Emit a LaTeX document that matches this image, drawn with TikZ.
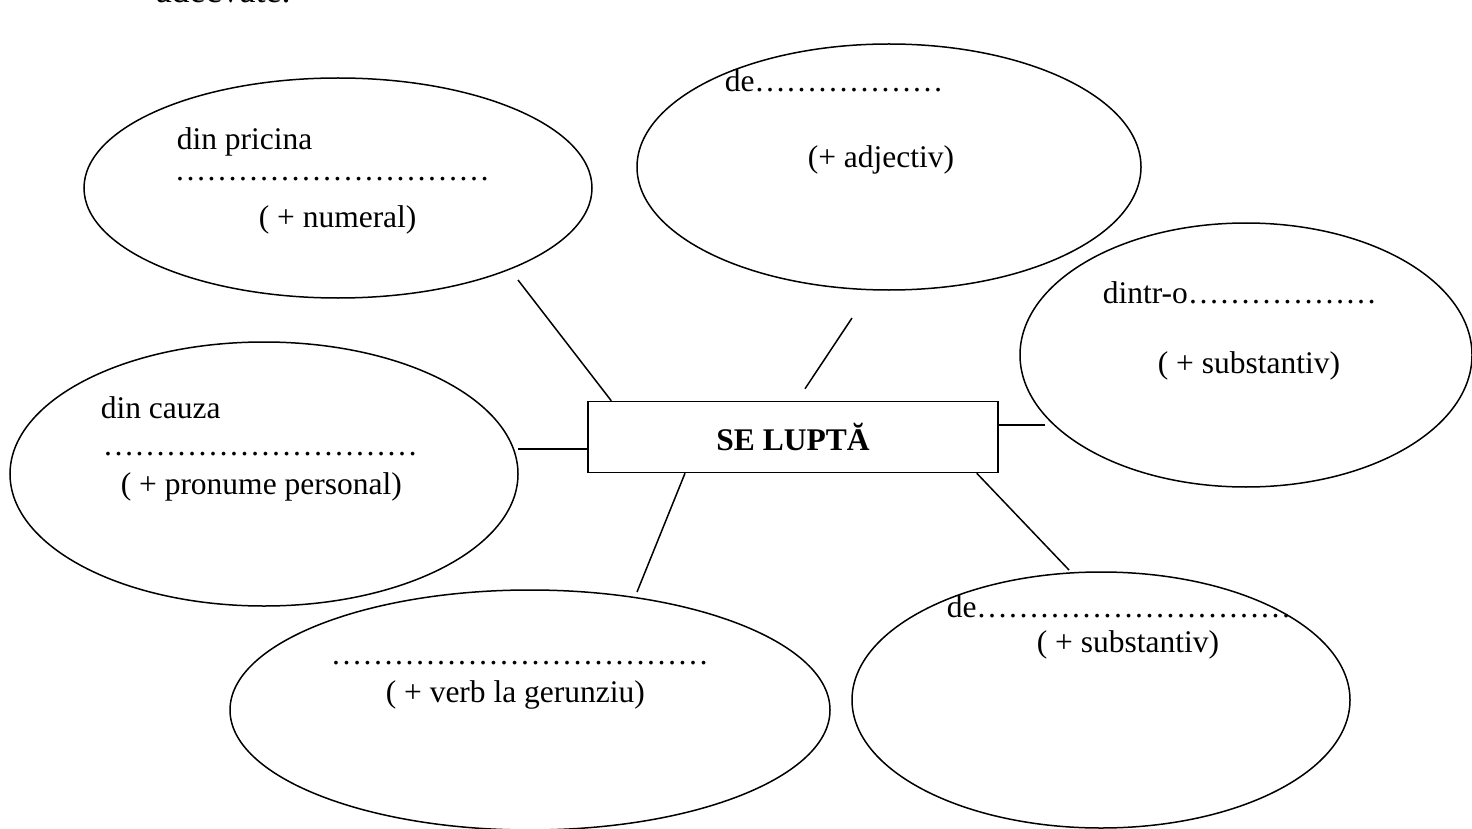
\documentclass[tikz,border=0pt]{standalone}
\usepackage{fontspec}
\setmainfont{Liberation Serif}
\usetikzlibrary{shapes.geometric}
\newcommand\gaps[1]{\foreach \k in {1,...,#1}{…}}

\begin{document}
\begin{tikzpicture}[x=1pt,y=-1pt,line width=1.5pt,
  bubble/.style={ellipse,draw,inner sep=0pt,minimum width=#1},
  txt/.style={anchor=base west,inner sep=0pt,font=\fontsize{31.5}{37}\selectfont}]
\useasboundingbox (0,0) rectangle (1472,829);
\node[anchor=base west,inner sep=0pt,font=\fontsize{36}{42}\selectfont] (title) at (155,3) {adecvate.};
% the box in the middle
\node [draw,minimum width=410pt,minimum height=71pt,inner sep=0pt,
  font=\fontsize{31.5}{37}\selectfont\bfseries] (verb) at (793,437) {SE LUPTĂ};
% the six bubbles
\node [bubble=508pt,minimum height=220pt] (numeral) at (338,188) {};
\node [bubble=504pt,minimum height=246pt] (adjectiv) at (889,167) {};
\node [bubble=452pt,minimum height=264pt] (subst1) at (1246,355) {};
\node [bubble=508pt,minimum height=264pt] (pronume) at (264,474) {};
\node [bubble=600pt,minimum height=240pt] (gerunziu) at (530,710) {};
\node [bubble=498pt,minimum height=256pt] (subst2) at (1101,700) {};
% texts
\node [txt] (t1) at (176,150) {din pricina};
\node [txt] (t2) at (174,181) {\gaps{10}};
\node [txt] (t3) at (258,227) {( + numeral)};
\node [txt] (t4) at (724,92) {de\gaps{6}};
\node [txt] (t5) at (807,168) {(+ adjectiv)};
\node [txt] (t6) at (1102,303) {dintr-o\gaps{6}};
\node [txt] (t7) at (1157,373) {( + substantiv)};
\node [txt] (t8) at (100,418) {din cauza};
\node [txt] (t9) at (102,455) {\gaps{10}};
\node [txt] (t10) at (120,494) {( + pronume personal)};
\node [txt] (t11) at (330,664) {\gaps{12}};
\node [txt] (t12) at (385,702) {( + verb la gerunziu)};
\node [txt] (t13) at (946,617) {de\gaps{10}};
\node [txt] (t14) at (1036,652) {( + substantiv)};
% lines
\coordinate (c1) at (518,280);
\coordinate (c2) at (852,318);
\coordinate (c3) at (1045,425);
\coordinate (c4) at (518,449);
\coordinate (c5) at (637,592);
\coordinate (c6) at (1069,570);
\draw (c1) -- ([xshift=24pt]verb.north west);
\draw (c2) -- ([xshift=12pt,yshift=12pt]verb.north);
\draw ([yshift=12pt]verb.east) -- (c3);
\draw (c4) -- ([yshift=-12pt]verb.west);
\draw ([xshift=-108pt]verb.south) -- (c5);
\draw ([xshift=-22pt]verb.south east) -- (c6);
\end{tikzpicture}
\end{document}
